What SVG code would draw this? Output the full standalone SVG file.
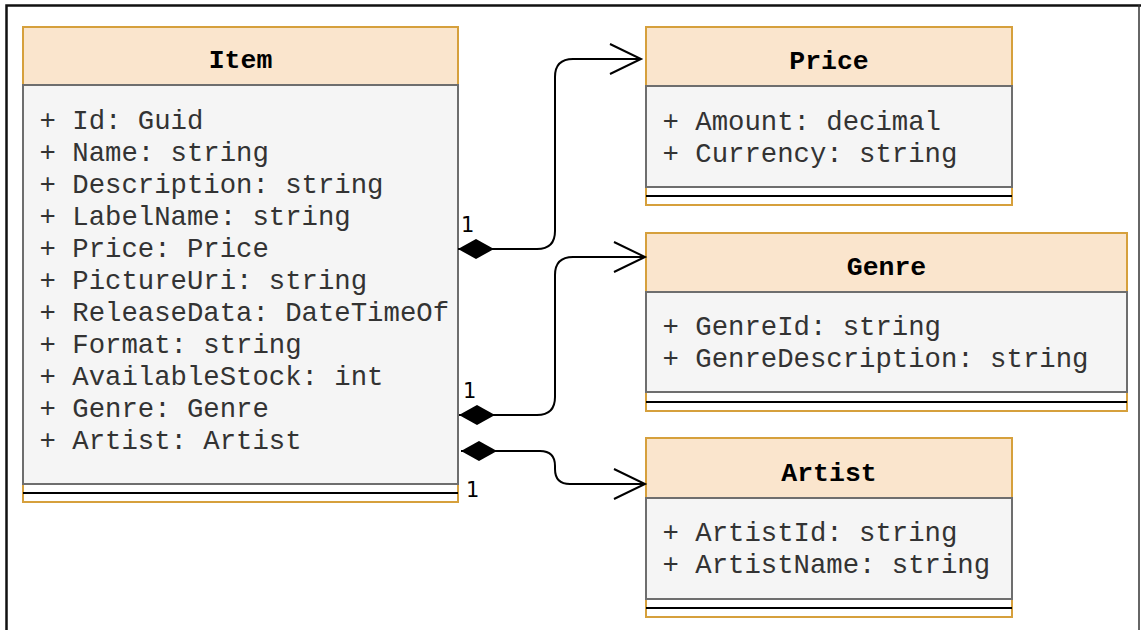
<svg xmlns="http://www.w3.org/2000/svg" width="1141" height="630" viewBox="0 0 1141 630">
<style>
.hdr{fill:#fae5cd;stroke:#d6a03c;stroke-width:2}
.outer{fill:#ffffff;stroke:#d6a03c;stroke-width:2}
.body{fill:#f5f5f5;stroke:#6e6e6e;stroke-width:2}
.sep{stroke:#000;stroke-width:2}
.title{font-family:"Liberation Mono","Courier New",monospace;font-weight:bold;font-size:26.5px;fill:#000;text-anchor:middle}
.attr{font-family:"Liberation Mono","Courier New",monospace;font-size:27.3px;fill:#333}
.conn{fill:none;stroke:#000;stroke-width:2;marker-start:url(#diamond);marker-end:url(#open)}
.mult{font-family:"DejaVu Sans",sans-serif;font-size:21px;fill:#000}
</style>
<defs>
<marker id="diamond" markerUnits="userSpaceOnUse" markerWidth="38" markerHeight="22" refX="0" refY="10" orient="auto" overflow="visible">
<path d="M0,10 L18,0 L36,10 L18,20 Z" fill="#000"/>
</marker>
<marker id="open" markerUnits="userSpaceOnUse" markerWidth="34" markerHeight="32" refX="31" refY="15" orient="auto" overflow="visible">
<path d="M0,0 L31,15 L0,30" fill="none" stroke="#000" stroke-width="2"/>
</marker>
</defs>
<rect x="0" y="0" width="1141" height="630" fill="#fff"/>
<path d="M6.5,630 V5.5 H1141" fill="none" stroke="#111" stroke-width="2.5"/>
<line x1="1139" y1="5" x2="1139" y2="630" stroke="#333" stroke-width="1.5"/>

<g id="item">
<rect class="outer" x="23" y="27" width="435" height="475"/>
<rect class="hdr" x="23" y="27" width="435" height="58"/>
<rect class="body" x="23" y="85" width="435" height="399"/>
<line class="sep" x1="23" y1="493" x2="458" y2="493"/>
<text class="title" x="240.5" y="68">Item</text>
<text class="attr" x="39.5" y="128.5">+ Id: Guid</text>
<text class="attr" x="39.5" y="160.5">+ Name: string</text>
<text class="attr" x="39.5" y="192.5">+ Description: string</text>
<text class="attr" x="39.5" y="224.5">+ LabelName: string</text>
<text class="attr" x="39.5" y="256.5">+ Price: Price</text>
<text class="attr" x="39.5" y="288.5">+ PictureUri: string</text>
<text class="attr" x="39.5" y="320.5">+ ReleaseData: DateTimeOf</text>
<text class="attr" x="39.5" y="352.5">+ Format: string</text>
<text class="attr" x="39.5" y="384.5">+ AvailableStock: int</text>
<text class="attr" x="39.5" y="416.5">+ Genre: Genre</text>
<text class="attr" x="39.5" y="448.5">+ Artist: Artist</text>
</g>

<g id="price">
<rect class="outer" x="646" y="27" width="366" height="178"/>
<rect class="hdr" x="646" y="27" width="366" height="59"/>
<rect class="body" x="646" y="86" width="366" height="101"/>
<line class="sep" x1="646" y1="196" x2="1012" y2="196"/>
<text class="title" x="829" y="69">Price</text>
<text class="attr" x="662.5" y="129.5">+ Amount: decimal</text>
<text class="attr" x="662.5" y="161.5">+ Currency: string</text>
</g>

<g id="genre">
<rect class="outer" x="646" y="233" width="481" height="178"/>
<rect class="hdr" x="646" y="233" width="481" height="59"/>
<rect class="body" x="646" y="292" width="481" height="100"/>
<line class="sep" x1="646" y1="402" x2="1127" y2="402"/>
<text class="title" x="886.5" y="275">Genre</text>
<text class="attr" x="662.5" y="335">+ GenreId: string</text>
<text class="attr" x="662.5" y="367">+ GenreDescription: string</text>
</g>

<g id="artist">
<rect class="outer" x="646" y="438" width="366" height="179"/>
<rect class="hdr" x="646" y="438" width="366" height="60"/>
<rect class="body" x="646" y="498" width="366" height="101"/>
<line class="sep" x1="646" y1="608" x2="1012" y2="608"/>
<text class="title" x="829" y="481">Artist</text>
<text class="attr" x="662.5" y="540.5">+ ArtistId: string</text>
<text class="attr" x="662.5" y="572.5">+ ArtistName: string</text>
</g>

<g id="connectors">
<path class="conn" d="M458,249 H537 Q555,249 555,231 V77 Q555,59 573,59 H641"/>
<path class="conn" d="M459,415 H537 Q555,415 555,397 V275 Q555,257 573,257 H645"/>
<path class="conn" d="M461,451 H540 Q555,451 555,466 V469 Q555,484 570,484 H645"/>
<text class="mult" x="461" y="232">1</text>
<text class="mult" x="463" y="398">1</text>
<text class="mult" x="466" y="497">1</text>
</g>
</svg>
